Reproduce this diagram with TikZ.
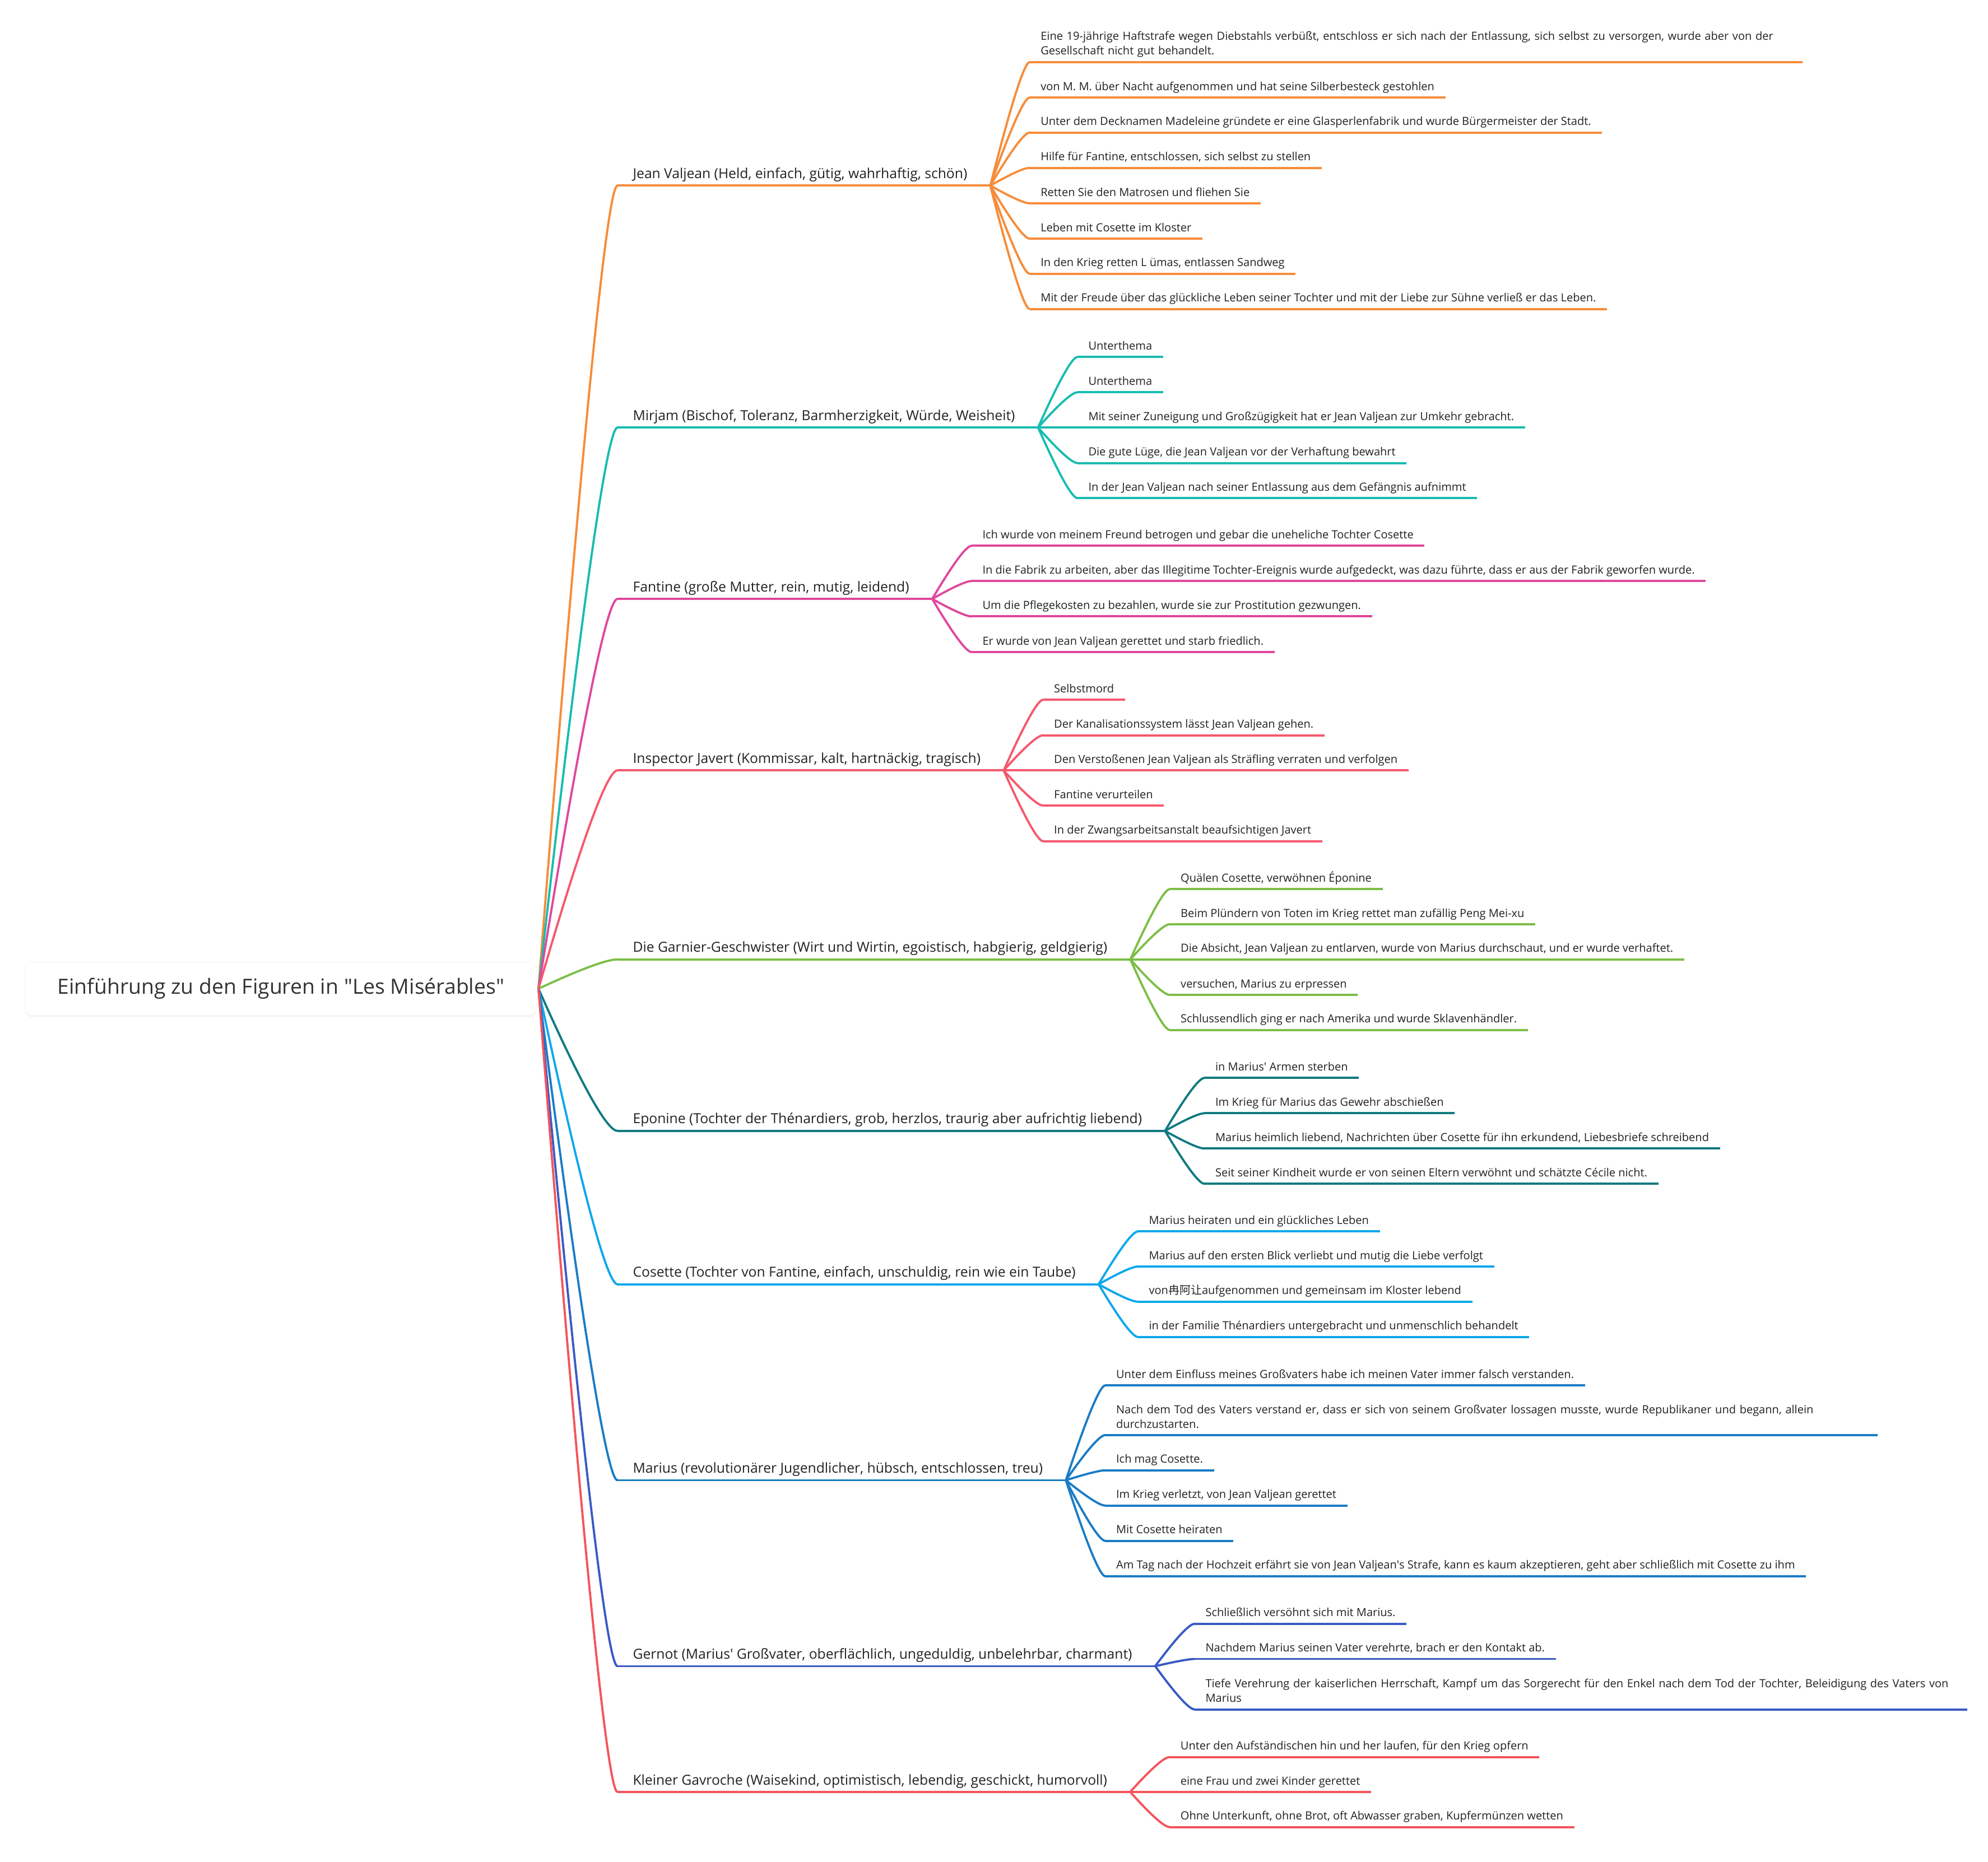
\documentclass[tikz,border=0pt]{standalone}
\usepackage{fontspec}
\setmainfont{Open Sans}
\newfontfamily\cjkfont{Noto Sans CJK SC}
\usepackage{xcolor}
\definecolor{ink}     {HTML}{222222}
\definecolor{cRoot}   {HTML}{333333}
\definecolor{cJV}     {HTML}{F78C39}
\definecolor{cMir}    {HTML}{18BCB0}
\definecolor{cFan}    {HTML}{E0489C}
\definecolor{cJav}    {HTML}{F5586E}
\definecolor{cGar}    {HTML}{7CBE46}
\definecolor{cEpo}    {HTML}{107A80}
\definecolor{cCos}    {HTML}{0EA8EC}
\definecolor{cMar}    {HTML}{1A7CC6}
\definecolor{cGer}    {HTML}{3A5AC4}
\definecolor{cGav}    {HTML}{F5545C}
\usetikzlibrary{calc, shadows}
\newcommand\subsize {\fontsize{8.85}{11.5}\selectfont}
\newcommand\mainsize{\fontsize{10.9}{13}\selectfont}
\newcommand\rootsize{\fontsize{16.5}{19}\selectfont}
\newcommand\q{\textquotesingle}
\tikzset{
  root/.style  = {rectangle, rounded corners=5pt, fill=white, draw=black!4,
                  minimum width=403pt, minimum height=42pt, font=\rootsize,
                  text=cRoot, drop shadow={opacity=0.07, shadow xshift=0pt,
                  shadow yshift=-1.5pt}},
  main/.style  = {anchor=south west, font=\mainsize, text=ink, inner xsep=12pt,
                  inner ysep=3pt, text depth=2.5pt,
                  execute at end node=\hspace*{6pt},
                  append after command={(\tikzlastnode.south west)
                    edge[draw=#1, line width=1.7pt] (\tikzlastnode.south east)}},
  sub/.style   = {anchor=south west, font=\subsize, text=ink, inner xsep=8.5pt,
                  inner ysep=3pt, text depth=2.5pt,
                  append after command={(\tikzlastnode.south west)
                    edge[draw=#1, line width=1.7pt] (\tikzlastnode.south east)}},
  wide/.style  = {sub=#1, text width=592pt, align=left, text depth=,
                  execute at end node={\rule[-2.5pt]{0pt}{2.5pt}}},
  twig/.style  = {line width=1.7pt, line cap=round},
}
% quadratic branch from #2 to #3
\newcommand\twig[3]{%
  \draw[twig, #1] let \p1=(#2), \p2=(#3) in (\p1)
    .. controls ({\x1+0.533*(\x2-\x1)}, {\y1+0.667*(\y2-\y1)})
           and ({\x2-0.133*(\x2-\x1)}, {\y2}) .. (\p2);}

\begin{document}
\begin{tikzpicture}[x=1pt, y=-1pt]

  \useasboundingbox[fill=white] (0,0) rectangle (1568,1469);

  \node[root] (root) at (221.5,780) {Einführung zu den Figuren in \textquotedbl Les Misérables\textquotedbl};
  \coordinate (hub) at ([xshift=1.5pt]root.east);

  % main topics
  \node[main=cJV]  (jv)  at (487,146.4)  {Jean Valjean (Held, einfach, gütig, wahrhaftig, schön)};
  \node[main=cMir] (mir) at (487,337.3)  {Mirjam (Bischof, Toleranz, Barmherzigkeit, Würde, Weisheit)};
  \node[main=cFan] (fan) at (487,472.5)  {Fantine (große Mutter, rein, mutig, leidend)};
  \node[main=cJav] (jav) at (487,607.8)  {Inspector Javert (Kommissar, kalt, hartnäckig, tragisch)};
  \node[main=cGar] (gar) at (487,756.9)  {Die Garnier-Geschwister (Wirt und Wirtin, egoistisch, habgierig, geldgierig)};
  \node[main=cEpo] (epo) at (487,892.2)  {Eponine (Tochter der Thénardiers, grob, herzlos, traurig aber aufrichtig liebend)};
  \node[main=cCos] (cos) at (487,1013.2) {Cosette (Tochter von Fantine, einfach, unschuldig, rein wie ein Taube)};
  \node[main=cMar] (mar) at (487,1167.8) {Marius (revolutionärer Jugendlicher, hübsch, entschlossen, treu)};
  \node[main=cGer] (ger) at (487,1314.5) {Gernot (Marius\q{} Großvater, oberflächlich, ungeduldig, unbelehrbar, charmant)};
  \node[main=cGav] (gav) at (487,1413.7) {Kleiner Gavroche (Waisekind, optimistisch, lebendig, geschickt, humorvoll)};

  \foreach \m/\c in {jv/cJV, mir/cMir, fan/cFan, jav/cJav, gar/cGar,
                     epo/cEpo, cos/cCos, mar/cMar, ger/cGer, gav/cGav} {
    \twig{\c}{hub}{\m.south west}
    \path (\m.south east) ++(31,0) coordinate (\m x);
  }

  % Jean Valjean
  \node[wide=cJV] (jv1) at (jvx |- 0,49.0)  {Eine 19-jährige Haftstrafe wegen Diebstahls verbüßt, entschloss er sich nach der Entlassung, sich selbst zu versorgen, wurde aber von der\\Gesellschaft nicht gut behandelt.};
  \node[sub=cJV]  (jv2) at (jvx |- 0,76.9)  {von M. M. über Nacht aufgenommen und hat seine Silberbesteck gestohlen};
  \node[sub=cJV]  (jv3) at (jvx |- 0,104.6) {Unter dem Decknamen Madeleine gründete er eine Glasperlenfabrik und wurde Bürgermeister der Stadt.};
  \node[sub=cJV]  (jv4) at (jvx |- 0,132.4) {Hilfe für Fantine, entschlossen, sich selbst zu stellen};
  \node[sub=cJV]  (jv5) at (jvx |- 0,160.4) {Retten Sie den Matrosen und fliehen Sie};
  \node[sub=cJV]  (jv6) at (jvx |- 0,188.3) {Leben mit Cosette im Kloster};
  \node[sub=cJV]  (jv7) at (jvx |- 0,216.0) {In den Krieg retten L ümas, entlassen Sandweg};
  \node[sub=cJV]  (jv8) at (jvx |- 0,243.8) {Mit der Freude über das glückliche Leben seiner Tochter und mit der Liebe zur Sühne verließ er das Leben.};

  % Mirjam
  \node[sub=cMir] (mir1) at (mirx |- 0,281.7) {Unterthema};
  \node[sub=cMir] (mir2) at (mirx |- 0,309.5) {Unterthema};
  \node[sub=cMir] (mir3) at (mirx |- 0,337.3) {Mit seiner Zuneigung und Großzügigkeit hat er Jean Valjean zur Umkehr gebracht.};
  \node[sub=cMir] (mir4) at (mirx |- 0,365.3) {Die gute Lüge, die Jean Valjean vor der Verhaftung bewahrt};
  \node[sub=cMir] (mir5) at (mirx |- 0,393.0) {In der Jean Valjean nach seiner Entlassung aus dem Gefängnis aufnimmt};

  % Fantine
  \node[sub=cFan] (fan1) at (fanx |- 0,430.6) {Ich wurde von meinem Freund betrogen und gebar die uneheliche Tochter Cosette};
  \node[sub=cFan] (fan2) at (fanx |- 0,458.4) {In die Fabrik zu arbeiten, aber das Illegitime Tochter-Ereignis wurde aufgedeckt, was dazu führte, dass er aus der Fabrik geworfen wurde.};
  \node[sub=cFan] (fan3) at (fanx |- 0,486.3) {Um die Pflegekosten zu bezahlen, wurde sie zur Prostitution gezwungen.};
  \node[sub=cFan] (fan4) at (fanx |- 0,514.4) {Er wurde von Jean Valjean gerettet und starb friedlich.};

  % Javert
  \node[sub=cJav] (jav1) at (javx |- 0,552.1) {Selbstmord};
  \node[sub=cJav] (jav2) at (javx |- 0,580.1) {Der Kanalisationssystem lässt Jean Valjean gehen.};
  \node[sub=cJav] (jav3) at (javx |- 0,607.8) {Den Verstoßenen Jean Valjean als Sträfling verraten und verfolgen};
  \node[sub=cJav] (jav4) at (javx |- 0,635.5) {Fantine verurteilen};
  \node[sub=cJav] (jav5) at (javx |- 0,663.6) {In der Zwangsarbeitsanstalt beaufsichtigen Javert};

  % Garnier
  \node[sub=cGar] (gar1) at (garx |- 0,701.5) {Quälen Cosette, verwöhnen Éponine};
  \node[sub=cGar] (gar2) at (garx |- 0,729.2) {Beim Plündern von Toten im Krieg rettet man zufällig Peng Mei-xu};
  \node[sub=cGar] (gar3) at (garx |- 0,756.9) {Die Absicht, Jean Valjean zu entlarven, wurde von Marius durchschaut, und er wurde verhaftet.};
  \node[sub=cGar] (gar4) at (garx |- 0,784.9) {versuchen, Marius zu erpressen};
  \node[sub=cGar] (gar5) at (garx |- 0,812.6) {Schlussendlich ging er nach Amerika und wurde Sklavenhändler.};

  % Eponine
  \node[sub=cEpo] (epo1) at (epox |- 0,850.4) {in Marius\q{} Armen sterben};
  \node[sub=cEpo] (epo2) at (epox |- 0,878.3) {Im Krieg für Marius das Gewehr abschießen};
  \node[sub=cEpo] (epo3) at (epox |- 0,906.1) {Marius heimlich liebend, Nachrichten über Cosette für ihn erkundend, Liebesbriefe schreibend};
  \node[sub=cEpo] (epo4) at (epox |- 0,933.9) {Seit seiner Kindheit wurde er von seinen Eltern verwöhnt und schätzte Cécile nicht.};

  % Cosette
  \node[sub=cCos] (cos1) at (cosx |- 0,971.5)  {Marius heiraten und ein glückliches Leben};
  \node[sub=cCos] (cos2) at (cosx |- 0,999.2)  {Marius auf den ersten Blick verliebt und mutig die Liebe verfolgt};
  \node[sub=cCos] (cos3) at (cosx |- 0,1027.0) {von{\cjkfont 冉阿让}aufgenommen und gemeinsam im Kloster lebend};
  \node[sub=cCos] (cos4) at (cosx |- 0,1054.8) {in der Familie Thénardiers untergebracht und unmenschlich behandelt};

  % Marius
  \node[sub=cMar]  (mar1) at (marx |- 0,1093.0) {Unter dem Einfluss meines Großvaters habe ich meinen Vater immer falsch verstanden.};
  \node[wide=cMar] (mar2) at (marx |- 0,1132.2) {Nach dem Tod des Vaters verstand er, dass er sich von seinem Großvater lossagen musste, wurde Republikaner und begann, allein\\durchzustarten.};
  \node[sub=cMar]  (mar3) at (marx |- 0,1160.0) {Ich mag Cosette.};
  \node[sub=cMar]  (mar4) at (marx |- 0,1187.8) {Im Krieg verletzt, von Jean Valjean gerettet};
  \node[sub=cMar]  (mar5) at (marx |- 0,1215.6) {Mit Cosette heiraten};
  \node[sub=cMar]  (mar6) at (marx |- 0,1243.5) {Am Tag nach der Hochzeit erfährt sie von Jean Valjean\q{}s Strafe, kann es kaum akzeptieren, geht aber schließlich mit Cosette zu ihm};

  % Gernot
  \node[sub=cGer]  (ger1) at (gerx |- 0,1281.1) {Schließlich versöhnt sich mit Marius.};
  \node[sub=cGer]  (ger2) at (gerx |- 0,1308.8) {Nachdem Marius seinen Vater verehrte, brach er den Kontakt ab.};
  \node[wide=cGer] (ger3) at (gerx |- 0,1348.6) {Tiefe Verehrung der kaiserlichen Herrschaft, Kampf um das Sorgerecht für den Enkel nach dem Tod der Tochter, Beleidigung des Vaters von\\Marius};

  % Gavroche
  \node[sub=cGav] (gav1) at (gavx |- 0,1386.2) {Unter den Aufständischen hin und her laufen, für den Krieg opfern};
  \node[sub=cGav] (gav2) at (gavx |- 0,1413.7) {eine Frau und zwei Kinder gerettet};
  \node[sub=cGav] (gav3) at (gavx |- 0,1441.4) {Ohne Unterkunft, ohne Brot, oft Abwasser graben, Kupfermünzen wetten};

  \foreach \i in {1,...,8} {\twig{cJV}{jv.south east}{jv\i.south west}}
  \foreach \i in {1,...,5} {\twig{cMir}{mir.south east}{mir\i.south west}}
  \foreach \i in {1,...,4} {\twig{cFan}{fan.south east}{fan\i.south west}}
  \foreach \i in {1,...,5} {\twig{cJav}{jav.south east}{jav\i.south west}}
  \foreach \i in {1,...,5} {\twig{cGar}{gar.south east}{gar\i.south west}}
  \foreach \i in {1,...,4} {\twig{cEpo}{epo.south east}{epo\i.south west}}
  \foreach \i in {1,...,4} {\twig{cCos}{cos.south east}{cos\i.south west}}
  \foreach \i in {1,...,6} {\twig{cMar}{mar.south east}{mar\i.south west}}
  \foreach \i in {1,...,3} {\twig{cGer}{ger.south east}{ger\i.south west}}
  \foreach \i in {1,...,3} {\twig{cGav}{gav.south east}{gav\i.south west}}

\end{tikzpicture}
\end{document}
